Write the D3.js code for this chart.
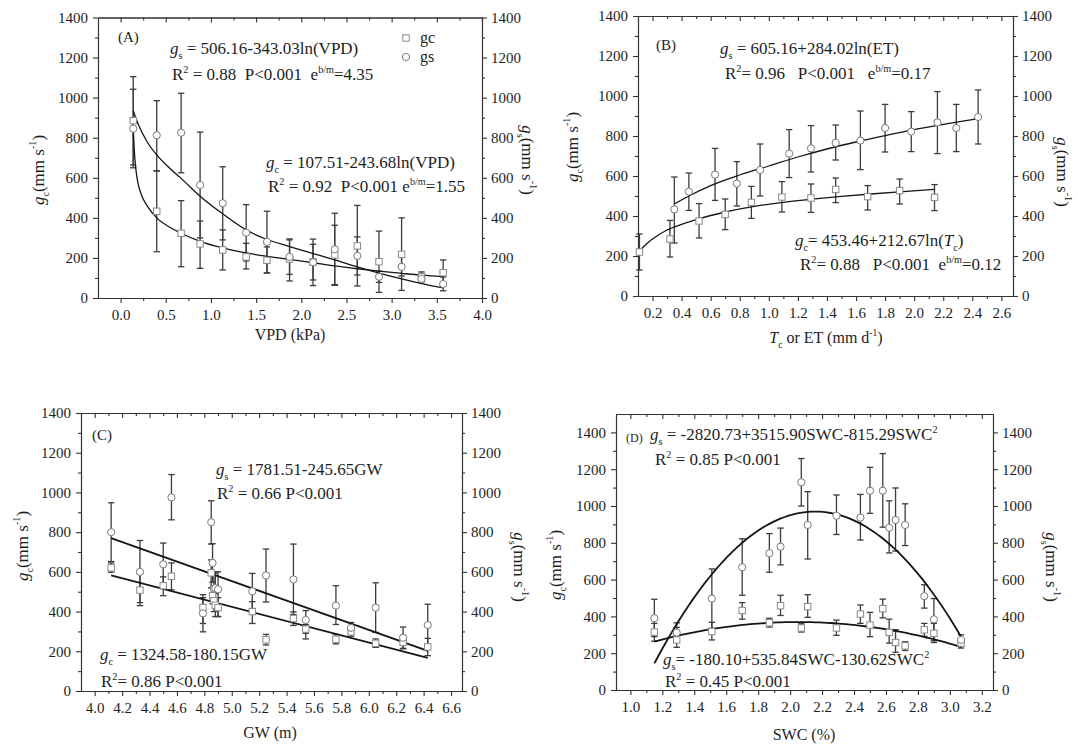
<!DOCTYPE html>
<html>
<head>
<meta charset="utf-8">
<script src="https://cdn.jsdelivr.net/npm/d3@7"></script>
<style>
  html, body { margin: 0; padding: 0; background: #fff; }
  svg { display: block; font-family: "Liberation Serif", "Times New Roman", serif; }
</style>
</head>
<body>
<svg id="chart" width="1078" height="747"></svg>
<script>
// ---------- tick labels ----------
const yTickLabels   = [0, 200, 400, 600, 800, 1000, 1200, 1400];
const vpdTickLabels = [0.0, 0.5, 1.0, 1.5, 2.0, 2.5, 3.0, 3.5, 4.0];
const etTickLabels  = [0.2, 0.4, 0.6, 0.8, 1.0, 1.2, 1.4, 1.6, 1.8, 2.0, 2.2, 2.4, 2.6];
const gwTickLabels  = [4.0, 4.2, 4.4, 4.6, 4.8, 5.0, 5.2, 5.4, 5.6, 5.8, 6.0, 6.2, 6.4, 6.6];
const swcTickLabels = [1.0, 1.2, 1.4, 1.6, 1.8, 2.0, 2.2, 2.4, 2.6, 2.8, 3.0, 3.2];

// ---------- (A) conductance vs VPD : [x, mean, low, high] ----------
const vpdGc = [
  [0.14, 885, 664, 1105], [0.40, 433, 231, 635], [0.67, 323, 156, 486], [0.88, 270, 148, 384],
  [1.13, 240, 140, 340], [1.39, 205, 145, 273], [1.62, 188, 125, 255], [1.87, 195, 85, 290],
  [2.13, 180, 90, 268], [2.37, 215, 67, 363], [2.62, 260, 60, 462], [2.86, 181, 28, 334],
  [3.11, 218, 38, 400], [3.33, 105, 80, 130], [3.57, 126, 60, 190]
];
const vpdGs = [
  [0.14, 845, 650, 1042], [0.40, 812, 634, 985], [0.67, 825, 625, 1022], [0.88, 564, 300, 828],
  [1.13, 473, 290, 655], [1.39, 326, 185, 466], [1.62, 280, 125, 433], [1.87, 205, 118, 295],
  [2.13, 178, 62, 294], [2.37, 243, 63, 423], [2.62, 210, 115, 305], [2.86, 106, 78, 134],
  [3.11, 156, 110, 205], [3.33, 95, 85, 120], [3.57, 70, 36, 105]
];
// fitted curves as drawn : [x, value]
const vpdGsFit = [
  [0.14, 935], [0.2, 862], [0.3, 775], [0.4, 714], [0.55, 645], [0.67, 597], [0.88, 508],
  [1.13, 420], [1.39, 340], [1.62, 292], [1.87, 257], [2.13, 222], [2.37, 190], [2.62, 155],
  [2.86, 124], [3.11, 95], [3.33, 72], [3.57, 50]
];
const vpdGcFit = [
  [0.14, 847], [0.15, 750], [0.165, 660], [0.19, 580], [0.23, 515], [0.3, 456], [0.4, 400],
  [0.55, 352], [0.67, 323], [0.88, 283], [1.13, 250], [1.39, 225], [1.62, 208], [1.87, 193],
  [2.13, 176], [2.37, 160], [2.62, 146], [2.86, 134], [3.11, 123], [3.33, 114], [3.57, 107]
];

// ---------- (B) conductance vs Tc / ET ----------
const etGc = [
  [0.11, 220, 130, 310], [0.32, 285, 195, 378], [0.52, 375, 290, 462], [0.70, 408, 332, 485],
  [0.88, 468, 388, 548], [1.09, 495, 420, 572], [1.29, 490, 418, 560], [1.46, 533, 467, 590],
  [1.68, 497, 430, 552], [1.90, 527, 460, 585], [2.14, 493, 427, 557]
];
const etGs = [
  [0.35, 433, 265, 595], [0.45, 522, 428, 615], [0.63, 607, 478, 738], [0.78, 562, 450, 672],
  [0.94, 630, 500, 760], [1.14, 712, 592, 832], [1.29, 738, 620, 852], [1.46, 766, 680, 855],
  [1.63, 777, 632, 925], [1.80, 840, 720, 958], [1.98, 822, 722, 922], [2.16, 868, 712, 1022],
  [2.29, 840, 722, 958], [2.44, 895, 760, 1030]
];
const etGsFit = [
  [0.35, 460], [0.45, 500], [0.6, 552], [0.8, 605], [1.0, 650], [1.2, 695], [1.4, 735],
  [1.6, 770], [1.8, 802], [2.0, 832], [2.2, 858], [2.44, 887]
];
const etGcFit = [
  [0.1, 210], [0.13, 240], [0.17, 268], [0.22, 295], [0.3, 330], [0.4, 358], [0.5, 382],
  [0.7, 420], [0.9, 448], [1.1, 468], [1.3, 484], [1.5, 498], [1.7, 510], [1.9, 521], [2.14, 533]
];

// ---------- (C) conductance vs groundwater depth ----------
const gwGs = [
  [4.12, 800, 652, 948], [4.33, 600, 445, 758], [4.50, 638, 530, 745], [4.56, 975, 862, 1090],
  [4.79, 391, 298, 485], [4.85, 850, 740, 958], [4.86, 645, 548, 742], [4.87, 515, 440, 592],
  [4.88, 518, 445, 600], [4.90, 512, 375, 600], [5.15, 502, 415, 592], [5.25, 582, 448, 715],
  [5.45, 562, 385, 740], [5.54, 358, 262, 405], [5.76, 430, 335, 530], [5.87, 318, 290, 345],
  [6.05, 420, 295, 545], [6.25, 268, 212, 322], [6.43, 332, 230, 437]
];
const gwGc = [
  [4.12, 620, 598, 645], [4.33, 508, 430, 590], [4.50, 530, 480, 575], [4.56, 578, 510, 645],
  [4.79, 420, 340, 470], [4.85, 595, 520, 660], [4.86, 480, 440, 520], [4.87, 455, 400, 500],
  [4.88, 432, 375, 490], [4.90, 420, 375, 470], [5.15, 400, 340, 450], [5.25, 258, 232, 285],
  [5.45, 365, 330, 398], [5.54, 312, 290, 335], [5.76, 260, 237, 285], [5.87, 298, 276, 320],
  [6.05, 240, 220, 262], [6.25, 245, 215, 280], [6.43, 222, 178, 265]
];
// linear fits from the stated coefficients [intercept, slope] and their GW range
const gwGsCoef = [1781.51, -245.65];
const gwGcCoef = [1324.58, -180.15];
const gwFitRange = [4.12, 6.43];

// ---------- (D) conductance vs soil water content ----------
const swcGs = [
  [1.15, 390, 290, 493], [1.29, 312, 262, 365], [1.51, 497, 335, 658], [1.70, 667, 515, 822],
  [1.87, 743, 640, 850], [1.94, 779, 680, 880], [2.07, 1129, 1000, 1258], [2.11, 897, 712, 1078],
  [2.29, 947, 845, 1060], [2.44, 937, 815, 1063], [2.50, 1083, 960, 1210], [2.58, 1083, 885, 1285],
  [2.62, 882, 745, 1028], [2.66, 924, 755, 1098], [2.72, 897, 785, 1012], [2.84, 510, 445, 572],
  [2.90, 384, 268, 497], [3.07, 272, 245, 300]
];
const swcGc = [
  [1.15, 315, 265, 362], [1.29, 272, 232, 340], [1.51, 318, 272, 368], [1.70, 432, 385, 475],
  [1.87, 365, 342, 390], [1.94, 458, 405, 515], [2.07, 337, 315, 360], [2.11, 453, 395, 518],
  [2.29, 337, 297, 380], [2.44, 413, 362, 462], [2.50, 353, 290, 422], [2.58, 442, 392, 494],
  [2.62, 313, 255, 385], [2.66, 258, 205, 328], [2.72, 240, 215, 262], [2.84, 327, 292, 362],
  [2.90, 308, 258, 362], [3.07, 255, 228, 280]
];
// quadratic fits from the stated coefficients [c0, c1, c2]
const swcGsCoef = [-2820.73, 3515.90, -815.29];
const swcGcCoef = [-180.10, 535.84, -130.62];
const swcFitRange = [1.15, 3.07];

// ---------- helpers ----------
const FONT = '"Liberation Serif", "Times New Roman", serif';
const INK = '#1e1e1e';
const poly = (coef, v) => coef.reduce((s, c, i) => s + c * Math.pow(v, i), 0);
const polyCurve = (coef, range, n) =>
  d3.range(n + 1).map(i => {
    const v = range[0] + (range[1] - range[0]) * i / n;
    return [v, poly(coef, v)];
  });

// minor ticks half-way between the labelled ones, kept strictly inside the domain
function minorTicks(major, dom) {
  const step = major[1] - major[0];
  const out = [];
  for (let v = major[0] - step / 2; v < dom[1] - 1e-9; v += step) {
    if (v > dom[0] + 1e-9) out.push(+v.toFixed(4));
  }
  return out;
}

// text with italic / subscript / superscript runs
function rich(parent, cfg) {
  const t = parent.append('text')
    .attr('x', cfg.x).attr('y', cfg.y)
    .attr('font-size', cfg.size)
    .attr('font-family', FONT)
    .attr('fill', INK)
    .style('white-space', 'pre');
  if (cfg.anchor) t.attr('text-anchor', cfg.anchor);
  if (cfg.rotate) t.attr('transform', `rotate(${cfg.rotate},${cfg.x},${cfg.y})`);
  let shift = 0;
  cfg.parts.forEach(([s, k]) => {
    const sp = t.append('tspan').text(s);
    const target = k === 'sub' ? cfg.size * 0.3 : k === 'sup' ? -cfg.size * 0.42 : 0;
    if (target !== shift) sp.attr('dy', target - shift);
    shift = target;
    if (k === 'sub' || k === 'sup') sp.attr('font-size', cfg.size * 0.6);
    if (k === 'i') sp.attr('font-style', 'italic');
  });
  return t;
}

// ---------- panel layout ----------
const panels = [
  { box: { l: 98, r: 482, t: 17.5, b: 298 }, xDom: [-0.25, 4.0], yDom: [0, 1400], xTicks: vpdTickLabels,
    gc: vpdGc, gs: vpdGs, gsFit: vpdGsFit, gcFit: vpdGcFit, fitW: 1.3, smooth: true },
  { box: { l: 638, r: 1013, t: 16, b: 296 }, xDom: [0.1, 2.68], yDom: [0, 1400], xTicks: etTickLabels,
    gc: etGc, gs: etGs, gsFit: etGsFit, gcFit: etGcFit, fitW: 1.3, smooth: true },
  { box: { l: 81, r: 462, t: 413, b: 691 }, xDom: [3.9, 6.68], yDom: [0, 1400], xTicks: gwTickLabels,
    gc: gwGc, gs: gwGs, gsFit: polyCurve(gwGsCoef, gwFitRange, 1), gcFit: polyCurve(gwGcCoef, gwFitRange, 1), fitW: 1.8 },
  { box: { l: 616, r: 993, t: 414, b: 690 }, xDom: [0.91, 3.27], yDom: [0, 1500], xTicks: swcTickLabels,
    gc: swcGc, gs: swcGs, gsFit: polyCurve(swcGsCoef, swcFitRange, 80), gcFit: polyCurve(swcGcCoef, swcFitRange, 80), fitW: 1.8 }
];

const svg = d3.select('#chart');
svg.append('rect').attr('width', 1078).attr('height', 747).attr('fill', '#fff');

function styleAxis(sel) {
  sel.attr('font-family', FONT).attr('font-size', 15);
  sel.selectAll('.domain').attr('stroke', '#333').attr('stroke-width', 1.1);
  sel.selectAll('.tick line').attr('stroke', '#333').attr('stroke-width', 1.1);
  sel.selectAll('.tick text').attr('fill', INK);
}

panels.forEach(p => {
  const x = d3.scaleLinear().domain(p.xDom).range([p.box.l, p.box.r]);
  const y = d3.scaleLinear().domain(p.yDom).range([p.box.b, p.box.t]);
  const g = svg.append('g');
  const xMinor = minorTicks(p.xTicks, p.xDom);
  const yMinor = minorTicks(yTickLabels, p.yDom);
  const fx = d3.format('.1f');

  // bottom
  g.append('g').attr('transform', `translate(0,${p.box.b})`)
    .call(d3.axisBottom(x).tickValues(p.xTicks).tickFormat(fx).tickSizeInner(5).tickSizeOuter(0).tickPadding(6))
    .call(styleAxis);
  g.append('g').attr('transform', `translate(0,${p.box.b})`)
    .call(d3.axisBottom(x).tickValues(xMinor).tickFormat('').tickSizeInner(3).tickSizeOuter(0))
    .call(styleAxis);
  // top (ticks inward)
  g.append('g').attr('transform', `translate(0,${p.box.t})`)
    .call(d3.axisTop(x).tickValues(p.xTicks).tickFormat('').tickSizeInner(-5).tickSizeOuter(0))
    .call(styleAxis);
  g.append('g').attr('transform', `translate(0,${p.box.t})`)
    .call(d3.axisTop(x).tickValues(xMinor).tickFormat('').tickSizeInner(-3).tickSizeOuter(0))
    .call(styleAxis);
  // left
  g.append('g').attr('transform', `translate(${p.box.l},0)`)
    .call(d3.axisLeft(y).tickValues(yTickLabels).tickFormat(d3.format('d')).tickSizeInner(5).tickSizeOuter(0).tickPadding(5))
    .call(styleAxis);
  g.append('g').attr('transform', `translate(${p.box.l},0)`)
    .call(d3.axisLeft(y).tickValues(yMinor).tickFormat('').tickSizeInner(3).tickSizeOuter(0))
    .call(styleAxis);
  // right
  g.append('g').attr('transform', `translate(${p.box.r},0)`)
    .call(d3.axisRight(y).tickValues(yTickLabels).tickFormat(d3.format('d')).tickSizeInner(5).tickSizeOuter(0).tickPadding(4))
    .call(styleAxis);
  g.append('g').attr('transform', `translate(${p.box.r},0)`)
    .call(d3.axisRight(y).tickValues(yMinor).tickFormat('').tickSizeInner(3).tickSizeOuter(0))
    .call(styleAxis);

  // error bars
  const bars = g.append('g').attr('stroke', '#3c3c3c').attr('stroke-width', 1.3).attr('fill', 'none');
  [...p.gs, ...p.gc].forEach(d => {
    const cx = x(d[0]);
    bars.append('line').attr('x1', cx).attr('x2', cx).attr('y1', y(d[2])).attr('y2', y(d[3]));
    bars.append('line').attr('x1', cx - 3.2).attr('x2', cx + 3.2).attr('y1', y(d[2])).attr('y2', y(d[2]));
    bars.append('line').attr('x1', cx - 3.2).attr('x2', cx + 3.2).attr('y1', y(d[3])).attr('y2', y(d[3]));
  });

  // fitted curves
  const line = d3.line().x(d => x(d[0])).y(d => y(d[1]));
  if (p.smooth) line.curve(d3.curveMonotoneX);
  [p.gsFit, p.gcFit].forEach(f => {
    g.append('path').attr('d', line(f)).attr('fill', 'none')
      .attr('stroke', '#151515').attr('stroke-width', p.fitW);
  });

  // markers: gc squares, gs circles
  g.append('g').selectAll('rect').data(p.gc).join('rect')
    .attr('x', d => x(d[0]) - 3.2).attr('y', d => y(d[1]) - 3.2)
    .attr('width', 6.4).attr('height', 6.4)
    .attr('fill', '#fff').attr('stroke', '#8a8a8a').attr('stroke-width', 1);
  g.append('g').selectAll('circle').data(p.gs).join('circle')
    .attr('cx', d => x(d[0])).attr('cy', d => y(d[1])).attr('r', 3.6)
    .attr('fill', '#fff').attr('stroke', '#7a7a7a').attr('stroke-width', 1);
});

// ---------- legend (A) ----------
const leg = svg.append('g');
leg.append('rect').attr('x', 402.8).attr('y', 34.8).attr('width', 6.4).attr('height', 6.4)
  .attr('fill', '#fff').attr('stroke', '#8a8a8a');
leg.append('circle').attr('cx', 406).attr('cy', 57).attr('r', 3.6)
  .attr('fill', '#fff').attr('stroke', '#7a7a7a');
rich(leg, { x: 420, y: 43, size: 16, parts: [['gc']] });
rich(leg, { x: 420, y: 62, size: 16, parts: [['gs']] });

// ---------- annotations ----------
const EQ = 17;
const notes = [
  // (A)
  { x: 118, y: 42, size: 15, parts: [['(A)']] },
  { x: 170, y: 54, size: EQ, parts: [['g', 'i'], ['s', 'sub'], [' = 506.16-343.03ln(VPD)']] },
  { x: 172, y: 80, size: EQ, parts: [['R'], ['2', 'sup'], [' = 0.88  P<0.001  e'], ['b/m', 'sup'], ['=4.35']] },
  { x: 266, y: 168, size: EQ, parts: [['g', 'i'], ['c', 'sub'], [' = 107.51-243.68ln(VPD)']] },
  { x: 268, y: 192, size: EQ, parts: [['R'], ['2', 'sup'], [' = 0.92  P<0.001 e'], ['b/m', 'sup'], ['=1.55']] },
  // (B)
  { x: 656, y: 50, size: 15, parts: [['(B)']] },
  { x: 720, y: 54, size: EQ, parts: [['g', 'i'], ['s', 'sub'], [' = 605.16+284.02ln(ET)']] },
  { x: 725, y: 79, size: EQ, parts: [['R'], ['2', 'sup'], ['= 0.96   P<0.001   e'], ['b/m', 'sup'], ['=0.17']] },
  { x: 795, y: 246, size: EQ, parts: [['g', 'i'], ['c', 'sub'], ['= 453.46+212.67ln('], ['T', 'i'], ['c', 'sub'], [')']] },
  { x: 800, y: 270, size: EQ, parts: [['R'], ['2', 'sup'], ['= 0.88   P<0.001  e'], ['b/m', 'sup'], ['=0.12']] },
  // (C)
  { x: 92, y: 440, size: 15, parts: [['(C)']] },
  { x: 216, y: 475, size: EQ, parts: [['g', 'i'], ['s', 'sub'], [' = 1781.51-245.65GW']] },
  { x: 217, y: 499, size: EQ, parts: [['R'], ['2', 'sup'], [' = 0.66 P<0.001']] },
  { x: 100, y: 660, size: EQ, parts: [['g', 'i'], ['c', 'sub'], [' = 1324.58-180.15GW']] },
  { x: 101, y: 687, size: EQ, parts: [['R'], ['2', 'sup'], ['= 0.86 P<0.001']] },
  // (D)
  { x: 626, y: 442, size: 12, parts: [['(D)']] },
  { x: 650, y: 440, size: EQ, parts: [['g', 'i'], ['s', 'sub'], [' = -2820.73+3515.90SWC-815.29SWC'], ['2', 'sup']] },
  { x: 655, y: 465, size: EQ, parts: [['R'], ['2', 'sup'], [' = 0.85 P<0.001']] },
  { x: 663, y: 665, size: EQ, parts: [['g', 'i'], ['s', 'sub'], ['= -180.10+535.84SWC-130.62SWC'], ['2', 'sup']] },
  { x: 665, y: 687, size: EQ, parts: [['R'], ['2', 'sup'], [' = 0.45 P<0.001']] }
];
const ann = svg.append('g');
notes.forEach(n => rich(ann, n));

// ---------- axis titles ----------
const TS = 17;
const XS = 16;
const gcTitle = [['g', 'i'], ['c', 'sub'], ['(mm s'], ['-1', 'sup'], [')']];
const gsTitle = [['g', 'i'], ['s', 'sub'], ['(mm s'], ['-1', 'sup'], [')']];
const titles = [
  { x: 290, y: 340, size: XS, anchor: 'middle', parts: [['VPD (kPa)']] },
  { x: 826, y: 343, size: XS, anchor: 'middle', parts: [['T', 'i'], ['c', 'sub'], [' or ET (mm d'], ['-1', 'sup'], [')']] },
  { x: 270, y: 738, size: XS, anchor: 'middle', parts: [['GW (m)']] },
  { x: 804, y: 740, size: XS, anchor: 'middle', parts: [['SWC (%)']] },
  // left (rotated up)
  { x: 38 + TS * 0.33, y: 170, size: TS, anchor: 'middle', rotate: -90, parts: gcTitle },
  { x: 572 + TS * 0.33, y: 147, size: TS, anchor: 'middle', rotate: -90, parts: gcTitle },
  { x: 22 + TS * 0.33, y: 546, size: TS, anchor: 'middle', rotate: -90, parts: gcTitle },
  { x: 555 + TS * 0.33, y: 565, size: TS, anchor: 'middle', rotate: -90, parts: gcTitle },
  // right (rotated down)
  { x: 528 - TS * 0.33, y: 160, size: TS, anchor: 'middle', rotate: 90, parts: gsTitle },
  { x: 1063 - TS * 0.33, y: 172, size: TS, anchor: 'middle', rotate: 90, parts: gsTitle },
  { x: 520 - TS * 0.33, y: 567, size: TS, anchor: 'middle', rotate: 90, parts: gsTitle },
  { x: 1052 - TS * 0.33, y: 567, size: TS, anchor: 'middle', rotate: 90, parts: gsTitle }
];
const tt = svg.append('g');
titles.forEach(n => rich(tt, n));
</script>
</body>
</html>
